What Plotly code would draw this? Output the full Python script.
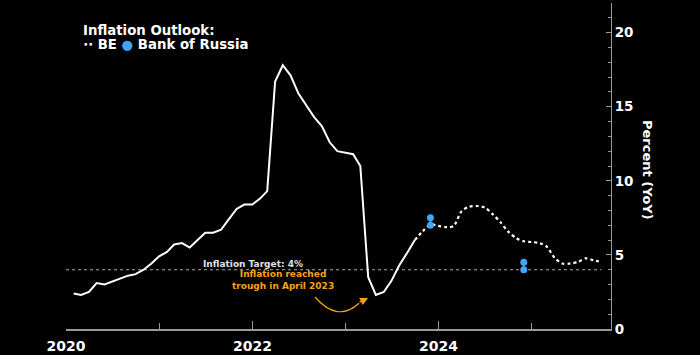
import pandas as pd
import plotly.graph_objects as go

# ---- data ----
hist_dates = pd.date_range("2020-01-31", "2023-09-30", freq="ME")
hist_values = [
    2.4, 2.3, 2.5, 3.1, 3.0, 3.2, 3.4, 3.6, 3.7, 4.0, 4.4, 4.9,
    5.2, 5.7, 5.8, 5.5, 6.0, 6.5, 6.5, 6.7, 7.4, 8.1, 8.4, 8.4,
    8.8, 9.3, 16.7, 17.8, 17.1, 15.9, 15.1, 14.3, 13.7, 12.6, 12.0, 11.9,
    11.8, 11.0, 3.5, 2.3, 2.5, 3.25, 4.3, 5.15, 6.0,
]
be_dates = pd.date_range("2023-09-30", "2025-09-30", freq="ME")
be_values = [
    6.0, 6.6, 7.05, 6.96, 6.87, 6.95, 7.95, 8.25, 8.3, 8.2, 7.75, 7.2,
    6.57, 6.13, 5.92, 5.87, 5.8, 5.56, 4.8, 4.42, 4.42, 4.52, 4.77, 4.63, 4.55,
]
bor_dates = ["2023-11-30", "2023-11-30", None, "2024-11-30", "2024-11-30"]
bor_values = [7.0, 7.5, None, 4.0, 4.5]
target_dates = ["2020-01-01", "2025-09-30"]
target_values = [4, 4]

x_range = ["2020-01-01", "2025-11-07"]
y_range = [0, 22]

WHITE = "#ffffff"
BLUE = "#42a5f5"
ORANGE = "#f5a31a"
GRAY = "#9a9a9a"
FONT = "DejaVu Sans"

fig = go.Figure()
fig.add_trace(go.Scatter(x=target_dates, y=target_values, mode="lines",
                         line=dict(color="#a8a8a8", width=1, dash="3px,3px"),
                         hoverinfo="skip", showlegend=False))
fig.add_trace(go.Scatter(x=hist_dates, y=hist_values, mode="lines",
                         line=dict(color=WHITE, width=2), showlegend=False))
fig.add_trace(go.Scatter(x=be_dates, y=be_values, mode="lines",
                         line=dict(color=WHITE, width=2.2, dash="dot", shape="spline", smoothing=0.8),
                         showlegend=False))
fig.add_trace(go.Scatter(x=bor_dates, y=bor_values, mode="lines+markers",
                         line=dict(color=BLUE, width=2), marker=dict(color=BLUE, size=7),
                         connectgaps=False, showlegend=False))

annotations = [
    dict(text="Inflation Outlook:", x=0.027, y=0.917, xref="paper", yref="paper",
         xanchor="left", yanchor="middle", showarrow=False,
         font=dict(family=FONT, size=13.3, color=WHITE, weight="bold")),
    dict(text="∙∙ BE <span style='color:%s'>●</span> Bank of Russia" % BLUE,
         x=0.027, y=0.874, xref="paper", yref="paper",
         xanchor="left", yanchor="middle", showarrow=False,
         font=dict(family=FONT, size=13.3, color=WHITE, weight="bold")),
    dict(text="Inflation Target: 4%", x=0.343, y=0.199, xref="paper", yref="paper",
         xanchor="center", yanchor="middle", showarrow=False,
         font=dict(family=FONT, size=9, color="#e0e0e0", weight="bold")),
    dict(text="Inflation reached<br>trough in April 2023", x=0.398, y=0.150, xref="paper", yref="paper",
         xanchor="center", yanchor="middle", showarrow=False,
         font=dict(family=FONT, size=9, color=ORANGE, weight="bold")),
    dict(text="", x=0.5541, y=0.0951, xref="paper", yref="paper",
         ax=-10, ay=5, showarrow=True, arrowhead=2, arrowsize=1.3, arrowwidth=1.2,
         arrowcolor=ORANGE),
    dict(text="Percent (YoY)", x=1.066, y=0.488, xref="paper", yref="paper",
         xanchor="center", yanchor="middle", showarrow=False, textangle=90,
         font=dict(family=FONT, size=13, color=WHITE, weight="bold")),
]

shapes = [
    dict(type="path", xref="paper", yref="paper",
         path="M 0.4569,0.0982 Q 0.4982,0.0184 0.5376,0.0790",
         line=dict(color=ORANGE, width=1.2)),
]

fig.update_layout(
    width=700, height=355,
    margin=dict(l=66, r=89, t=3, b=26),
    paper_bgcolor="#000000", plot_bgcolor="#000000",
    font=dict(family=FONT, color=WHITE, weight="bold"),
    annotations=annotations, shapes=shapes,
    xaxis=dict(range=x_range, type="date", showgrid=False, zeroline=False,
               showline=True, linecolor=GRAY, linewidth=1.5, automargin=False,
               ticks="inside", ticklen=8, tickcolor=GRAY, tickwidth=1,
               tick0="2020-01-01", dtick="M24", tickformat="%Y",
               ticklabelstandoff=3,
               tickfont=dict(family=FONT, size=14, color=WHITE, weight="bold"),
               minor=dict(ticks="inside", dtick="M12", ticklen=6, tickcolor=GRAY)),
    yaxis=dict(range=y_range, side="right", showgrid=False, zeroline=False,
               showline=True, linecolor=GRAY, linewidth=1, automargin=False,
               ticks="inside", ticklen=5, tickcolor=GRAY, dtick=5,
               tickfont=dict(family=FONT, size=13.5, color=WHITE, weight="bold"),
               minor=dict(ticks="inside", dtick=1, ticklen=3, tickcolor=GRAY)),
)

fig.write_html("out.html", config={"displayModeBar": False},
               post_script="document.body.style.margin='0px';document.body.style.background='#000';")
